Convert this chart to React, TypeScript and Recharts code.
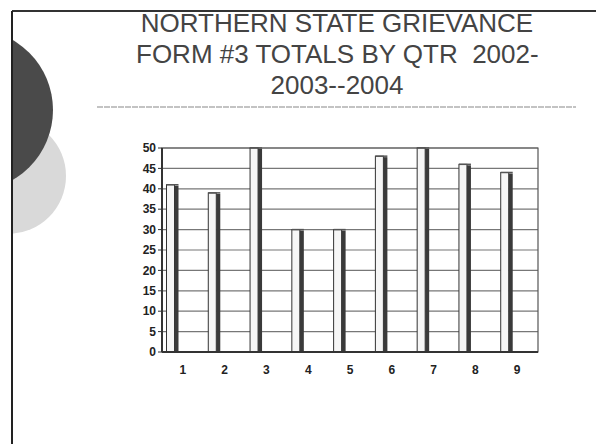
import React from "react";
import { BarChart, Bar, XAxis, YAxis, CartesianGrid, ReferenceArea } from "recharts";

const quarters = ["1", "2", "3", "4", "5", "6", "7", "8", "9"];
const totals = [41, 39, 50, 30, 30, 48, 50, 46, 44];
const yTicks = [0, 5, 10, 15, 20, 25, 30, 35, 40, 45, 50];
const titleLines = ["NORTHERN STATE GRIEVANCE", "FORM #3 TOTALS BY QTR  2002-", "2003--2004"];

const data = quarters.map((q, i) => ({ qtr: q, total: totals[i] }));

const FONT = "'Liberation Sans', Arial, sans-serif";

// old excel-style 3d column: pale face, dark side
function Column(props: any) {
  const { x, y, width, height } = props;
  if (!height) return null;
  const bx = x - 10.5;
  const side = 4;
  return (
    <g>
      <rect x={bx} y={y} width={width - side} height={height} fill="#f6f6f6" stroke="#333" strokeWidth={1} />
      <rect x={bx + width - side} y={y + 1} width={side} height={height - 1} fill="#3a3a3a" />
      <line x1={bx} y1={y} x2={bx + width} y2={y} stroke="#555" strokeWidth={1.5} />
    </g>
  );
}

export default function App() {
  return (
    <div style={{ position: "absolute", left: 0, top: 0, width: 596, height: 444, background: "#fff", overflow: "hidden", fontFamily: FONT }}>
      {/* slide decoration */}
      <svg width={596} height={444} style={{ position: "absolute", left: 0, top: 0 }}>
        <defs>
          <clipPath id="slide">
            <rect x={12} y={11} width={584} height={433} />
          </clipPath>
        </defs>
        <g clipPath="url(#slide)">
          <circle cx={8} cy={176} r={58} fill="#d9d9d9" />
          <circle cx={-28} cy={110} r={81} fill="#4a4a4a" />
        </g>
        <line x1={12} y1={11} x2={596} y2={11} stroke="#333" strokeWidth={2} />
        <line x1={12} y1={11} x2={12} y2={444} stroke="#222" strokeWidth={2} />
        <line x1={97} y1={107} x2={576} y2={107} stroke="#888" strokeWidth={1.2} strokeDasharray="6 1" />
      </svg>

      <div style={{ position: "absolute", left: 136, top: 8, width: 402, textAlign: "center", color: "#444", fontSize: 26, lineHeight: "31px" }}>
        {titleLines.map((t) => (
          <div key={t} style={{ whiteSpace: "pre" }}>{t}</div>
        ))}
      </div>

      <div style={{ position: "absolute", left: 120, top: 135 }}>
        <BarChart width={430} height={251} data={data} margin={{ top: 13, right: 12, bottom: 0, left: 0 }} barCategoryGap={0}>
          <CartesianGrid vertical={false} stroke="#777" strokeWidth={1.2} />
          <ReferenceArea y1={0} y2={50} fill="none" stroke="#555" strokeWidth={1.2} ifOverflow="extendDomain" />
          <XAxis
            dataKey="qtr"
            height={34}
            tickLine={false}
            axisLine={{ stroke: "#333", strokeWidth: 2 }}
            tick={{ fontSize: 12, fontWeight: 700, fill: "#222", fontFamily: FONT }}
            tickMargin={7}
          />
          <YAxis
            width={42}
            domain={[0, 50]}
            ticks={yTicks}
            interval={0}
            tickLine={{ stroke: "#333" }}
            tickSize={4}
            axisLine={{ stroke: "#333", strokeWidth: 2 }}
            tick={{ fontSize: 12, fontWeight: 700, fill: "#222", fontFamily: FONT }}
          />
          <Bar dataKey="total" barSize={12} shape={Column} isAnimationActive={false} />
        </BarChart>
      </div>
    </div>
  );
}
